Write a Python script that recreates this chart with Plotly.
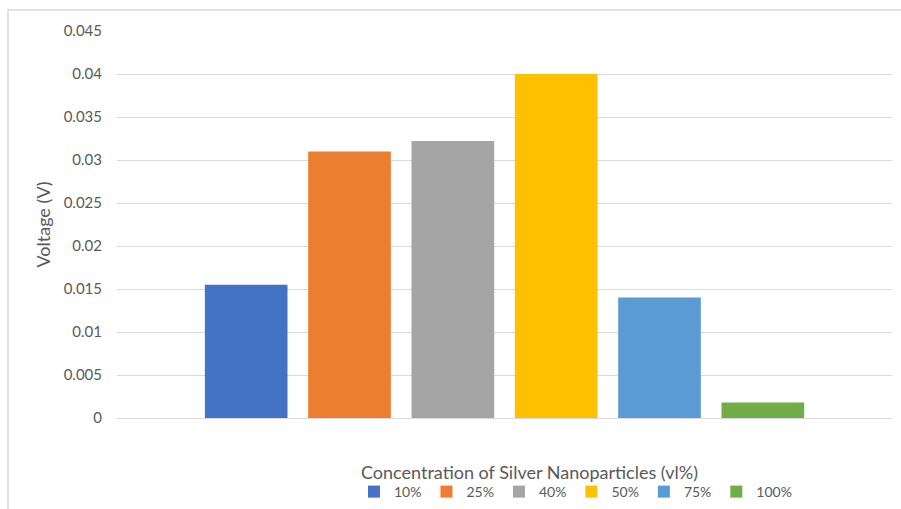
import plotly.graph_objects as go

# Output voltage for each silver nanoparticle concentration
concentrations = ["10%", "25%", "40%", "50%", "75%", "100%"]
voltages = [0.0155, 0.031, 0.0322, 0.04, 0.014, 0.0018]
colors = ["#4472C4", "#ED7D31", "#A5A5A5", "#FFC000", "#5B9BD5", "#70AD47"]

y_ticks = [0, 0.005, 0.01, 0.015, 0.02, 0.025, 0.03, 0.035, 0.04, 0.045]
y_tick_text = ["0", "0.005", "0.01", "0.015", "0.02", "0.025", "0.03", "0.035", "0.04", "0.045"]

FONT = "Lato, 'Open Sans', sans-serif"
TEXT = "#595959"
GRID = "#D9D9D9"
W, H = 901, 509

fig = go.Figure()
for name, v, c in zip(concentrations, voltages, colors):
    fig.add_trace(go.Bar(x=[""], y=[v], name=name, marker=dict(color=c, line=dict(width=0))))

fig.update_layout(
    width=W, height=H,
    margin=dict(l=117, r=9, t=31, b=91, autoexpand=False),
    paper_bgcolor="white", plot_bgcolor="white",
    barmode="group", bargap=0.2, bargroupgap=0.2,
    font=dict(family=FONT, color=TEXT, size=15),
    showlegend=True,
    legend=dict(orientation="h", xref="container", yref="container",
                x=354 / W, xanchor="left", y=1 - 492 / H, yanchor="middle",
                font=dict(size=14, color=TEXT), itemwidth=30,
                traceorder="normal", bgcolor="rgba(0,0,0,0)"),
    xaxis=dict(showticklabels=False, showgrid=False, showline=False, zeroline=False),
    yaxis=dict(range=[0, 0.045], tickvals=y_ticks, ticktext=y_tick_text,
               showgrid=True, gridcolor=GRID, gridwidth=1,
               zeroline=True, zerolinecolor=GRID, zerolinewidth=1,
               showline=False, ticks="", ticklabelstandoff=14,
               tickfont=dict(size=15, color=TEXT),
               title=dict(text="Voltage (V)", font=dict(size=18, color=TEXT), standoff=8)),
)

# Category axis title
fig.add_annotation(text="Concentration of Silver Nanoparticles (vl%)",
                   xref="paper", yref="paper", x=(529 - 117) / 775, y=-(472 - 418) / 387,
                   xanchor="center", yanchor="middle", showarrow=False,
                   font=dict(size=18, color=TEXT, family=FONT))

# Chart area outline (left and top edges visible)
fig.add_shape(type="rect", xref="paper", yref="paper",
              x0=(8 - 117) / 775, x1=1.05, y0=-0.3, y1=1 + (31 - 10) / 387,
              line=dict(color=GRID, width=1.5), fillcolor="rgba(0,0,0,0)", layer="below")

fig.write_html("out.html")
